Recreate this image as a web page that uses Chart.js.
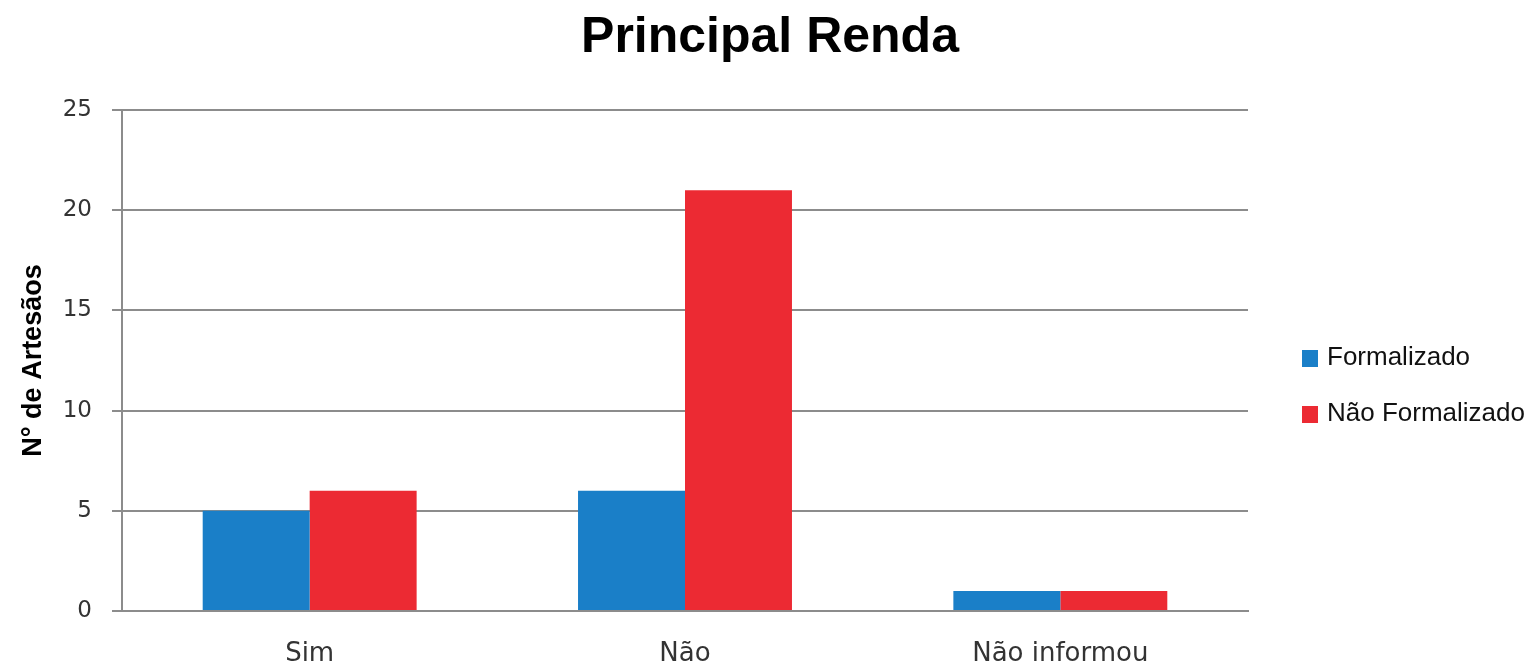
<!DOCTYPE html>
<html>
<head>
<meta charset="utf-8">
<script src="https://cdn.jsdelivr.net/npm/chart.js@4/dist/chart.umd.min.js"></script>
<style>
  html, body { margin: 0; padding: 0; background: #fff; }
  #wrap { width: 1540px; height: 670px; position: relative; }
</style>
</head>
<body>
<div id="wrap"><canvas id="c"></canvas></div>
<script>
const categories = ["Sim", "Não", "Não informou"];
const formalizado = [5, 6, 1];
const naoFormalizado = [6, 21, 1];
const seriesNames = ["Formalizado", "Não Formalizado"];
const seriesColors = ["#1a7fc8", "#ec2a33"];

const narrow = "'Liberation Sans Narrow', 'Arial Narrow', 'Liberation Sans', sans-serif";

// legend drawn in the empty right-hand axis space
const sideLegend = {
  id: "sideLegend",
  afterDraw(c) {
    const { ctx } = c;
    ctx.save();
    ctx.font = "26px " + narrow;
    ctx.textBaseline = "middle";
    c.data.datasets.forEach((ds, i) => {
      const cy = 358 + i * 56;
      ctx.fillStyle = ds.backgroundColor;
      ctx.fillRect(1302, cy - 8, 16, 17);
      ctx.fillStyle = "#111";
      ctx.fillText(ds.label, 1327, cy);
    });
    ctx.restore();
  }
};

new Chart(document.getElementById("c"), {
  type: "bar",
  data: {
    labels: categories,
    datasets: [
      { label: seriesNames[0], data: formalizado, backgroundColor: seriesColors[0] },
      { label: seriesNames[1], data: naoFormalizado, backgroundColor: seriesColors[1] }
    ]
  },
  options: {
    responsive: true,
    maintainAspectRatio: false,
    animation: false,
    devicePixelRatio: 1,
    layout: { padding: 0 },
    datasets: {
      bar: { categoryPercentage: 0.57, barPercentage: 1.0 }
    },
    plugins: {
      legend: { display: false },
      tooltip: { enabled: false },
      title: {
        display: true,
        text: "Principal Renda",
        color: "#000",
        font: { family: narrow, size: 50, weight: "bold", lineHeight: 1.2 },
        padding: { top: 8, bottom: 42 }
      }
    },
    scales: {
      x: {
        grid: { display: false, drawTicks: false },
        border: { display: true, color: "#8c8c8c", width: 2 },
        ticks: { color: "#333", font: { family: "'DejaVu Sans', sans-serif", size: 26 }, padding: 28 },
        afterFit(s) { s.height = 59; }
      },
      y: {
        min: 0,
        max: 25,
        ticks: { stepSize: 5, color: "#333", font: { family: "'DejaVu Sans', sans-serif", size: 23 }, padding: 20 },
        grid: { color: "#8c8c8c", lineWidth: 2, tickLength: 10 },
        border: { display: true, color: "#8c8c8c", width: 2 },
        title: {
          display: true,
          text: "N° de Artesãos",
          color: "#000",
          font: { family: narrow, size: 27, weight: "bold", lineHeight: 1.2 },
          padding: { top: 17, bottom: 0 }
        },
        afterFit(s) { s.width = 122; }
      },
      // empty axis that only reserves room for the legend
      side: {
        type: "linear",
        position: "right",
        min: 0,
        max: 1,
        grid: { display: false, drawTicks: false },
        border: { display: false },
        ticks: { display: false },
        afterFit(s) { s.width = 292; }
      }
    }
  },
  plugins: [sideLegend]
});
</script>
</body>
</html>
